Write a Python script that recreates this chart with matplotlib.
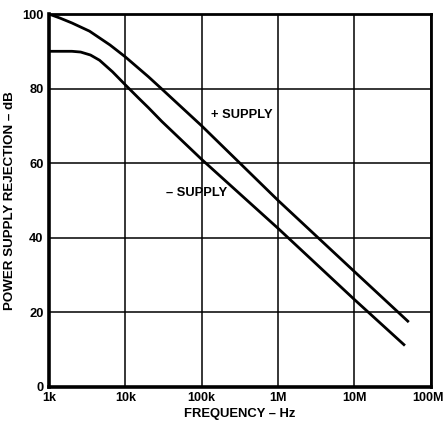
import matplotlib

matplotlib.use("Agg")
import matplotlib.pyplot as plt
from matplotlib.transforms import ScaledTranslation

# Valores (frecuencia en Hz, rechazo en dB)
freq_pos = [1e3, 1.4e3, 2e3, 3.4e3, 6.3e3, 1e4, 1.5e4, 2e4, 3e4, 5e4, 1e5, 1e6, 1e7, 5e7]
psr_pos = [100, 98.9, 97.6, 95.4, 91.7, 88.5, 85.4, 83.2, 79.9, 75.7, 70.0, 50.0, 30.9, 17.6]

freq_neg = [1e3, 2e3, 2.6e3, 3.5e3, 4.6e3, 6.8e3, 1e4, 1.5e4, 2e4, 3e4, 1e5, 1e6, 1e7, 4.45e7]
psr_neg = [90, 90, 89.8, 89.0, 87.6, 84.5, 81.0, 77.4, 74.9, 71.2, 61.0, 42.5, 23.4, 11.3]

xticks = [1e3, 1e4, 1e5, 1e6, 1e7, 1e8]
xlabels = ["1k", "10k", "100k", "1M", "10M", "100M"]
yticks = [0, 20, 40, 60, 80, 100]

plt.rcParams["font.family"] = ["Liberation Sans", "DejaVu Sans"]
plt.rcParams["font.weight"] = "bold"

fig = plt.figure(figsize=(4.45, 4.25), dpi=100)
ax = fig.add_axes([0.110, 0.090, 0.858, 0.877])

ax.set_xscale("log")
ax.set_xlim(1e3, 1e8)
ax.set_ylim(0, 100)
ax.set_xticks(xticks)
ax.set_xticklabels(xlabels)
ax.set_yticks(yticks)
ax.minorticks_off()
ax.tick_params(length=0, labelsize=9.3, pad=4)
ax.tick_params(axis="x", labelsize=9)
for lab in ax.get_xticklabels() + ax.get_yticklabels():
    lab.set_fontweight("bold")
# la última etiqueta queda pegada al borde: se corre un poco a la izquierda
ultima = ax.get_xticklabels()[-1]
ultima.set_transform(ultima.get_transform() + ScaledTranslation(-3 / 100, 0, fig.dpi_scale_trans))

ax.grid(True, color="black", lw=1.1)
for lado, ancho in {"left": 2.6, "bottom": 2.6, "right": 2.0, "top": 2.0}.items():
    ax.spines[lado].set_linewidth(ancho)

ax.plot(freq_pos, psr_pos, color="black", lw=2, solid_joinstyle="round")
ax.plot(freq_neg, psr_neg, color="black", lw=2, solid_joinstyle="round")

ax.text(3.4e5, 72.8, "+ SUPPLY", fontsize=9.3, fontweight="bold", ha="center", va="center")
ax.text(8.7e4, 52.0, "– SUPPLY", fontsize=9.3, fontweight="bold", ha="center", va="center")

ax.set_xlabel("FREQUENCY – Hz", fontsize=9.4, fontweight="bold", labelpad=3)
ax.set_ylabel("POWER SUPPLY REJECTION – dB", fontsize=9.6, fontweight="bold", labelpad=4)

fig.savefig("out.png", dpi=100)
